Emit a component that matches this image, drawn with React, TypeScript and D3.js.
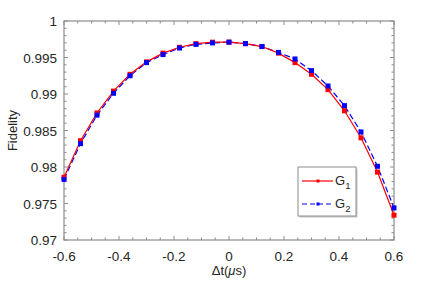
import React, { useEffect, useRef } from 'react';
import * as d3 from 'd3';

// time offsets (µs) and fidelities
const dt = [-0.6, -0.54, -0.48, -0.42, -0.36, -0.3, -0.24, -0.18, -0.12, -0.06, 0,
  0.06, 0.12, 0.18, 0.24, 0.3, 0.36, 0.42, 0.48, 0.54, 0.6];
const g1 = [0.9786, 0.9836, 0.9874, 0.9904, 0.9927, 0.9944, 0.9956, 0.9964, 0.9969, 0.9971, 0.9971,
  0.9969, 0.9965, 0.9956, 0.9943, 0.9927, 0.9906, 0.9877, 0.9840, 0.9793, 0.9734];
const g2 = [0.9783, 0.9832, 0.9871, 0.9901, 0.9925, 0.9943, 0.9954, 0.9963, 0.9968, 0.9970, 0.9971,
  0.9969, 0.9965, 0.9957, 0.9948, 0.9932, 0.9911, 0.9884, 0.9848, 0.9801, 0.9744];
const xTicks = [-0.6, -0.4, -0.2, 0, 0.2, 0.4, 0.6];
const yTicks = [0.97, 0.975, 0.98, 0.985, 0.99, 0.995, 1];

const W = 436, H = 284;
const margin = { top: 21, right: 42, bottom: 44, left: 64 };
const FONT = '"Liberation Sans", Arial, sans-serif';
const AXIS = '#8c8c8c';
const TEXT = '#262626';

const App: React.FC = () => {
  const svgRef = useRef<SVGSVGElement>(null);

  useEffect(() => {
    if (!svgRef.current) return;
    const svg = d3.select(svgRef.current);
    svg.selectAll('*').remove();

    const width = W - margin.left - margin.right;
    const height = H - margin.top - margin.bottom;
    const g = svg.append('g').attr('transform', `translate(${margin.left},${margin.top})`);

    const x = d3.scaleLinear().domain([-0.6, 0.6]).range([0, width]);
    const y = d3.scaleLinear().domain([0.97, 1]).range([height, 0]);

    // minor + major ticks, pointing inward on all four sides
    const xMinor = d3.range(-0.6, 0.6001, 0.05);
    const yMinor = d3.range(0.97, 1.00001, 0.001);
    const ticks = g.append('g').attr('stroke', AXIS).attr('stroke-width', 1);
    xMinor.forEach(v => {
      const major = xTicks.some(t => Math.abs(t - v) < 1e-6);
      const len = major ? 4 : 2.5;
      ticks.append('line').attr('x1', x(v)).attr('x2', x(v)).attr('y1', height).attr('y2', height - len);
      ticks.append('line').attr('x1', x(v)).attr('x2', x(v)).attr('y1', 0).attr('y2', len);
    });
    yMinor.forEach(v => {
      const major = yTicks.some(t => Math.abs(t - v) < 1e-7);
      const len = major ? 4 : 2.5;
      ticks.append('line').attr('x1', 0).attr('x2', len).attr('y1', y(v)).attr('y2', y(v));
      ticks.append('line').attr('x1', width).attr('x2', width - len).attr('y1', y(v)).attr('y2', y(v));
    });

    g.append('rect')
      .attr('width', width).attr('height', height)
      .attr('fill', 'none').attr('stroke', AXIS).attr('stroke-width', 1.2);

    // tick labels (plain hyphen minus, as in the source figure)
    g.append('g').selectAll('text').data(xTicks).enter().append('text')
      .attr('x', d => x(d)).attr('y', height + 21)
      .attr('text-anchor', 'middle')
      .style('font-family', FONT).style('font-size', '13.5px').attr('fill', TEXT)
      .text(d => String(+d.toFixed(1)));

    g.append('g').selectAll('text').data(yTicks).enter().append('text')
      .attr('x', -7).attr('y', d => y(d) + 5)
      .attr('text-anchor', 'end')
      .style('font-family', FONT).style('font-size', '13.5px').attr('fill', TEXT)
      .text(d => String(+d.toFixed(3)));

    // axis titles
    const xl = g.append('text')
      .attr('x', width / 2).attr('y', height + 35)
      .attr('text-anchor', 'middle')
      .style('font-family', FONT).style('font-size', '13px').attr('fill', TEXT);
    xl.append('tspan').text('Δt(');
    xl.append('tspan').style('font-style', 'italic').text('μ');
    xl.append('tspan').text('s)');

    g.append('text')
      .attr('transform', `translate(-47,${height / 2}) rotate(-90)`)
      .attr('text-anchor', 'middle')
      .style('font-family', FONT).style('font-size', '13px').attr('fill', TEXT)
      .text('Fidelity');

    const pts1 = dt.map((d, i) => [d, g1[i]] as [number, number]);
    const pts2 = dt.map((d, i) => [d, g2[i]] as [number, number]);
    const line = d3.line<[number, number]>().x(d => x(d[0])).y(d => y(d[1]));

    g.append('path').datum(pts2).attr('d', line)
      .attr('fill', 'none').attr('stroke', '#0000ff').attr('stroke-width', 1.2)
      .attr('stroke-dasharray', '6,3');
    g.append('path').datum(pts1).attr('d', line)
      .attr('fill', 'none').attr('stroke', '#ff0000').attr('stroke-width', 1.2);

    const ms = 5;
    g.append('g').selectAll('rect').data(pts1).enter().append('rect')
      .attr('x', d => x(d[0]) - ms / 2).attr('y', d => y(d[1]) - ms / 2)
      .attr('width', ms).attr('height', ms).attr('fill', '#ff0000');
    g.append('g').selectAll('rect').data(pts2).enter().append('rect')
      .attr('x', d => x(d[0]) - ms / 2).attr('y', d => y(d[1]) - ms / 2)
      .attr('width', ms).attr('height', ms).attr('fill', '#0000ff');

    // legend
    const lg = svg.append('g').attr('transform', 'translate(298,167)');
    lg.append('rect').attr('x', 1.5).attr('y', 1.5).attr('width', 58).attr('height', 49).attr('fill', '#c8c8c8');
    lg.append('rect').attr('width', 58).attr('height', 49).attr('fill', '#fff').attr('stroke', '#8c8c8c').attr('stroke-width', 1);
    const entries = [
      { name: '1', color: '#ff0000', dash: null, yy: 14 },
      { name: '2', color: '#0000ff', dash: '5,3', yy: 37 },
    ];
    entries.forEach(e => {
      lg.append('line').attr('x1', 4).attr('x2', 35).attr('y1', e.yy).attr('y2', e.yy)
        .attr('stroke', e.color).attr('stroke-width', 1.2)
        .attr('stroke-dasharray', e.dash);
      lg.append('rect').attr('x', 18.5).attr('y', e.yy - 1.5).attr('width', 3).attr('height', 3).attr('fill', e.color);
      const t = lg.append('text').attr('x', 37).attr('y', e.yy + 4)
        .style('font-family', FONT).style('font-size', '13px').attr('fill', TEXT);
      t.append('tspan').text('G');
      t.append('tspan').attr('dy', 4).style('font-size', '9.5px').text(e.name);
    });
  }, []);

  return <svg ref={svgRef} width={W} height={H} style={{ display: 'block', position: 'absolute', left: 0, top: 0, background: '#fff' }} />;
};

export default App;
